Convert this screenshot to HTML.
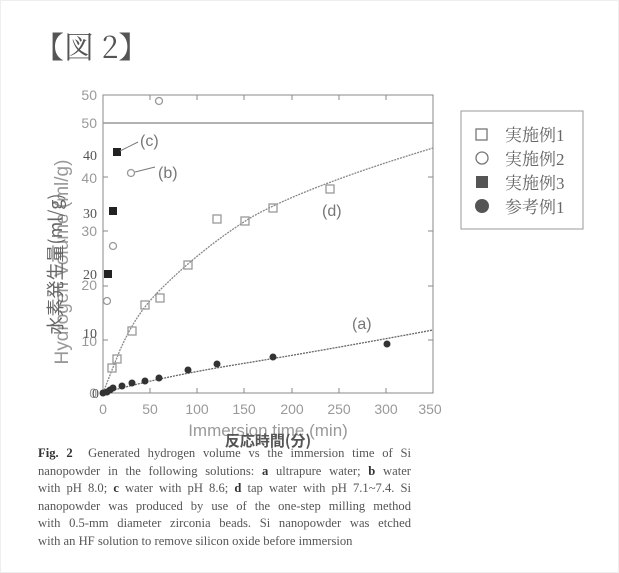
<!DOCTYPE html>
<html><head><meta charset="utf-8"><style>
body{margin:0;width:619px;height:573px;background:#fff;overflow:hidden;position:relative;font-family:"Liberation Serif","Noto Serif CJK SC",serif}
.cap{position:absolute;left:38px;top:445px;width:373px;font-size:12.6px;line-height:17.5px;color:#555}
.cap div{text-align:justify;text-align-last:justify;white-space:nowrap;height:17.5px}
.cap div.l{text-align-last:left}
.cap b{color:#333}
</style></head><body>
<div style="position:absolute;left:0;top:0;width:617px;height:571px;border:1px solid #eee"></div>
<svg width="619" height="573" style="position:absolute;left:0;top:0">
<text x="34" y="58" font-size="30" fill="#555" font-family="Noto Serif CJK SC, serif">【図 2】</text>
<rect x="103" y="95" width="330" height="298" fill="none" stroke="#888" stroke-width="1"/>
<line x1="103" y1="123" x2="433" y2="123" stroke="#999" stroke-width="1.5"/>
<g stroke="#888">
<line x1="150" y1="393" x2="150" y2="388"/><line x1="197" y1="393" x2="197" y2="388"/><line x1="244" y1="393" x2="244" y2="388"/><line x1="292" y1="393" x2="292" y2="388"/><line x1="339" y1="393" x2="339" y2="388"/><line x1="386" y1="393" x2="386" y2="388"/>
<line x1="150" y1="95" x2="150" y2="100"/><line x1="197" y1="95" x2="197" y2="100"/><line x1="244" y1="95" x2="244" y2="100"/><line x1="292" y1="95" x2="292" y2="100"/><line x1="339" y1="95" x2="339" y2="100"/><line x1="386" y1="95" x2="386" y2="100"/>
<line x1="103" y1="340" x2="108" y2="340"/><line x1="103" y1="286" x2="108" y2="286"/><line x1="103" y1="231" x2="108" y2="231"/><line x1="103" y1="177" x2="108" y2="177"/>
<line x1="433" y1="340" x2="428" y2="340"/><line x1="433" y1="286" x2="428" y2="286"/><line x1="433" y1="231" x2="428" y2="231"/><line x1="433" y1="177" x2="428" y2="177"/>
</g>
<g font-family="Liberation Sans, sans-serif" font-size="14" fill="#999" text-anchor="end">
<text x="97" y="100">50</text><text x="97" y="128">50</text><text x="97" y="183">40</text><text x="97" y="236">30</text><text x="97" y="290">20</text><text x="97" y="346">10</text><text x="97" y="398">0</text>
</g>
<g font-family="Liberation Serif, serif" font-size="14" fill="#555" text-anchor="end">
<text x="97" y="160">40</text><text x="97" y="218">30</text><text x="97" y="279">20</text><text x="97" y="338">10</text><text x="99" y="398">0</text>
</g>
<g font-family="Liberation Sans, sans-serif" font-size="14" fill="#999" text-anchor="middle">
<text x="103" y="414">0</text><text x="150" y="414">50</text><text x="197" y="414">100</text><text x="244" y="414">150</text><text x="292" y="414">200</text><text x="339" y="414">250</text><text x="386" y="414">300</text><text x="430" y="414">350</text>
</g>
<text x="268" y="436" font-family="Liberation Sans, sans-serif" font-size="17" fill="#999" text-anchor="middle">Immersion time (min)</text>
<text x="268" y="446" font-family="Noto Sans CJK JP, sans-serif" font-size="15" font-weight="bold" fill="#555" text-anchor="middle">反応時間(分)</text>
<text transform="translate(68,262) rotate(-90)" font-family="Liberation Sans, sans-serif" font-size="19" fill="#999" text-anchor="middle">Hydrogen Volume (ml/g)</text>
<text transform="translate(62,264) rotate(-90)" font-family="Noto Sans CJK JP, sans-serif" font-size="18" fill="#666" text-anchor="middle">水素発生量(ml/g)</text>
<path d="M103,393 Q160,377 240,364 T433,330" fill="none" stroke="#666" stroke-width="1.3" stroke-dasharray="2,1"/>
<path d="M103,393 L112,370 L120,350 C130,328 140,310 160,290 C185,265 215,240 250,218 C290,195 360,170 433,148" fill="none" stroke="#888" stroke-width="1.3" stroke-dasharray="2,1"/>
<g fill="#333">
<circle cx="103" cy="393" r="3.5"/><circle cx="107" cy="392" r="3.5"/><circle cx="110" cy="390" r="3.5"/><circle cx="113" cy="388" r="3.5"/><circle cx="122" cy="386" r="3.5"/><circle cx="132" cy="383" r="3.5"/><circle cx="145" cy="381" r="3.5"/><circle cx="159" cy="378" r="3.5"/><circle cx="188" cy="370" r="3.5"/><circle cx="217" cy="364" r="3.5"/><circle cx="273" cy="357" r="3.5"/><circle cx="387" cy="344" r="3.5"/>
</g>
<g fill="none" stroke="#999" stroke-width="1.3">
<rect x="108" y="364" width="8" height="8"/><rect x="113" y="355" width="8" height="8"/><rect x="128" y="327" width="8" height="8"/><rect x="141" y="301" width="8" height="8"/><rect x="156" y="294" width="8" height="8"/><rect x="184" y="261" width="8" height="8"/><rect x="213" y="215" width="8" height="8"/><rect x="241" y="217" width="8" height="8"/><rect x="269" y="204" width="8" height="8"/><rect x="326" y="185" width="8" height="8"/>
<circle cx="107" cy="301" r="3.5"/><circle cx="113" cy="246" r="3.5"/><circle cx="131" cy="173" r="3.5"/><circle cx="159" cy="101" r="3.5"/>
</g>
<g fill="#222"><rect x="104" y="270" width="8" height="8"/><rect x="109" y="207" width="8" height="8"/><rect x="113" y="148" width="8" height="8"/></g>
<g stroke="#777" stroke-width="1"><line x1="120" y1="151" x2="138" y2="142"/><line x1="135" y1="172" x2="155" y2="167"/></g>
<g font-family="Liberation Sans, sans-serif" font-size="16" fill="#777">
<text x="140" y="146">(c)</text><text x="158" y="178">(b)</text><text x="322" y="216">(d)</text><text x="352" y="329">(a)</text>
</g>
<rect x="461" y="111" width="122" height="118" fill="none" stroke="#999" stroke-width="1"/>
<g fill="none" stroke="#777" stroke-width="1.3"><rect x="476" y="129" width="11" height="11"/><circle cx="482" cy="158" r="6"/></g>
<rect x="476" y="176" width="12" height="12" fill="#555"/><circle cx="482" cy="206" r="7" fill="#555"/>
<g font-family="Liberation Serif, Noto Serif CJK JP, serif" font-size="17" fill="#666">
<text x="505" y="141">実施例1</text><text x="505" y="165">実施例2</text><text x="505" y="189">実施例3</text><text x="505" y="213">参考例1</text>
</g>
</svg>
<div class="cap">
<div><b>Fig. 2</b>&nbsp; Generated hydrogen volume vs the immersion time of Si</div>
<div>nanopowder in the following solutions: <b>a</b> ultrapure water; <b>b</b> water</div>
<div>with pH 8.0; <b>c</b> water with pH 8.6; <b>d</b> tap water with pH 7.1~7.4. Si</div>
<div>nanopowder was produced by use of the one-step milling method</div>
<div>with 0.5-mm diameter zirconia beads. Si nanopowder was etched</div>
<div class="l">with an HF solution to remove silicon oxide before immersion</div>
</div>
</body></html>
